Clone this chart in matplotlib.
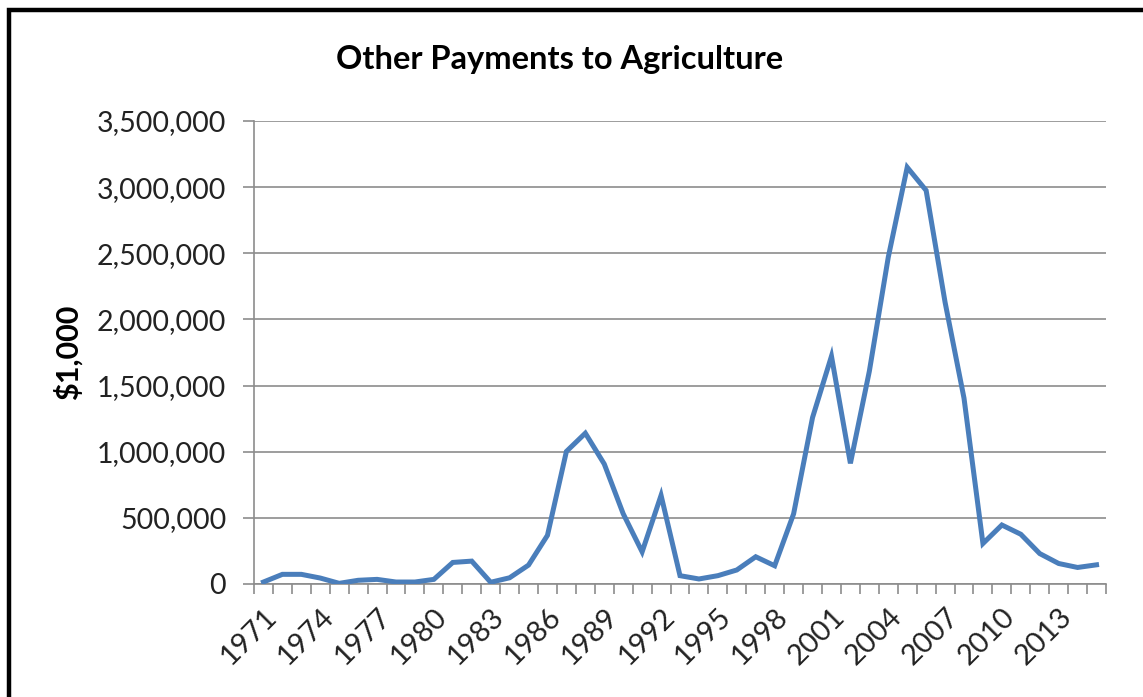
import matplotlib
matplotlib.use("Agg")
import matplotlib.pyplot as plt
import matplotlib.transforms as mtransforms
from matplotlib.patches import Rectangle
from matplotlib.ticker import FuncFormatter, FixedLocator

years = list(range(1971, 2016))
payments = [15000, 73000, 73000, 45000, 5000, 28000, 35000, 15000, 15000, 35000,
            163000, 173000, 13000, 47000, 143000, 368000, 1002000, 1140000, 907000, 531000,
            243000, 670000, 63000, 38000, 63000, 106000, 206000, 138000, 530000, 1258000,
            1722000, 912000, 1608000, 2470000, 3150000, 2975000, 2130000, 1405000, 306000, 446000,
            376000, 230000, 155000, 125000, 145000]
yticks = [0, 500000, 1000000, 1500000, 2000000, 2500000, 3000000, 3500000]
title = "Other Payments to Agriculture"
ylabel = "$1,000"

plt.rcParams['font.family'] = ['Lato', 'DejaVu Sans']

W, H = 1143, 697
fig = plt.figure(figsize=(W / 100, H / 100), dpi=100)
ax = fig.add_axes([254 / W, 1 - 584 / H, (1106 - 254) / W, (584 - 121) / H])

x = list(range(len(years)))
ax.plot(x, payments, color='#4A7EBB', linewidth=3.6, solid_joinstyle='miter', zorder=3)

ax.set_xlim(-0.5, len(years) - 0.5)
ax.set_ylim(0, 3500000)
ax.set_yticks(yticks)
ax.yaxis.set_major_formatter(FuncFormatter(lambda v, p: f"{int(v):,}"))
ax.grid(axis='y', color='#8c8c8c', linewidth=1.2, zorder=1)

# category ticks between categories, labels every 3 years
ax.xaxis.set_major_locator(FixedLocator(x[::3]))
labels = ax.set_xticklabels([str(y) for y in years[::3]], rotation=45, ha='right', va='top',
                            rotation_mode='anchor')
offset = mtransforms.ScaledTranslation(6 / 100, 0, fig.dpi_scale_trans)
for lab in labels:
    lab.set_transform(lab.get_transform() + offset)
ax.tick_params(axis='x', which='major', length=0, pad=14, labelsize=21)
ax.xaxis.set_minor_locator(FixedLocator([i - 0.5 for i in range(len(years) + 1)]))
ax.tick_params(axis='x', which='minor', length=7, width=1.2, color='#8c8c8c', direction='out')
ax.tick_params(axis='y', length=8, width=1.2, color='#8c8c8c', labelsize=20.5, pad=12,
               labelcolor='#222222')
ax.tick_params(axis='x', labelcolor='#222222')

for s in ['top', 'right']:
    ax.spines[s].set_visible(False)
for s in ['left', 'bottom']:
    ax.spines[s].set_color('#8c8c8c')
    ax.spines[s].set_linewidth(1.2)

fig.text(560 / W, 1 - 60 / H, title, ha='center', va='center', fontsize=23.5, fontweight='bold')
fig.text(68 / W, 1 - 352 / H, ylabel, ha='center', va='center', rotation=90,
         fontsize=22, fontweight='bold')

# outer black frame (left and top edges visible; extends beyond right/bottom)
fig.patches.append(Rectangle((8.5 / W, -0.1), 1.2, 1 - 10 / H + 0.1, transform=fig.transFigure,
                             fill=False, edgecolor='black', linewidth=3.2, zorder=10))

fig.savefig("out.png", dpi=100)
